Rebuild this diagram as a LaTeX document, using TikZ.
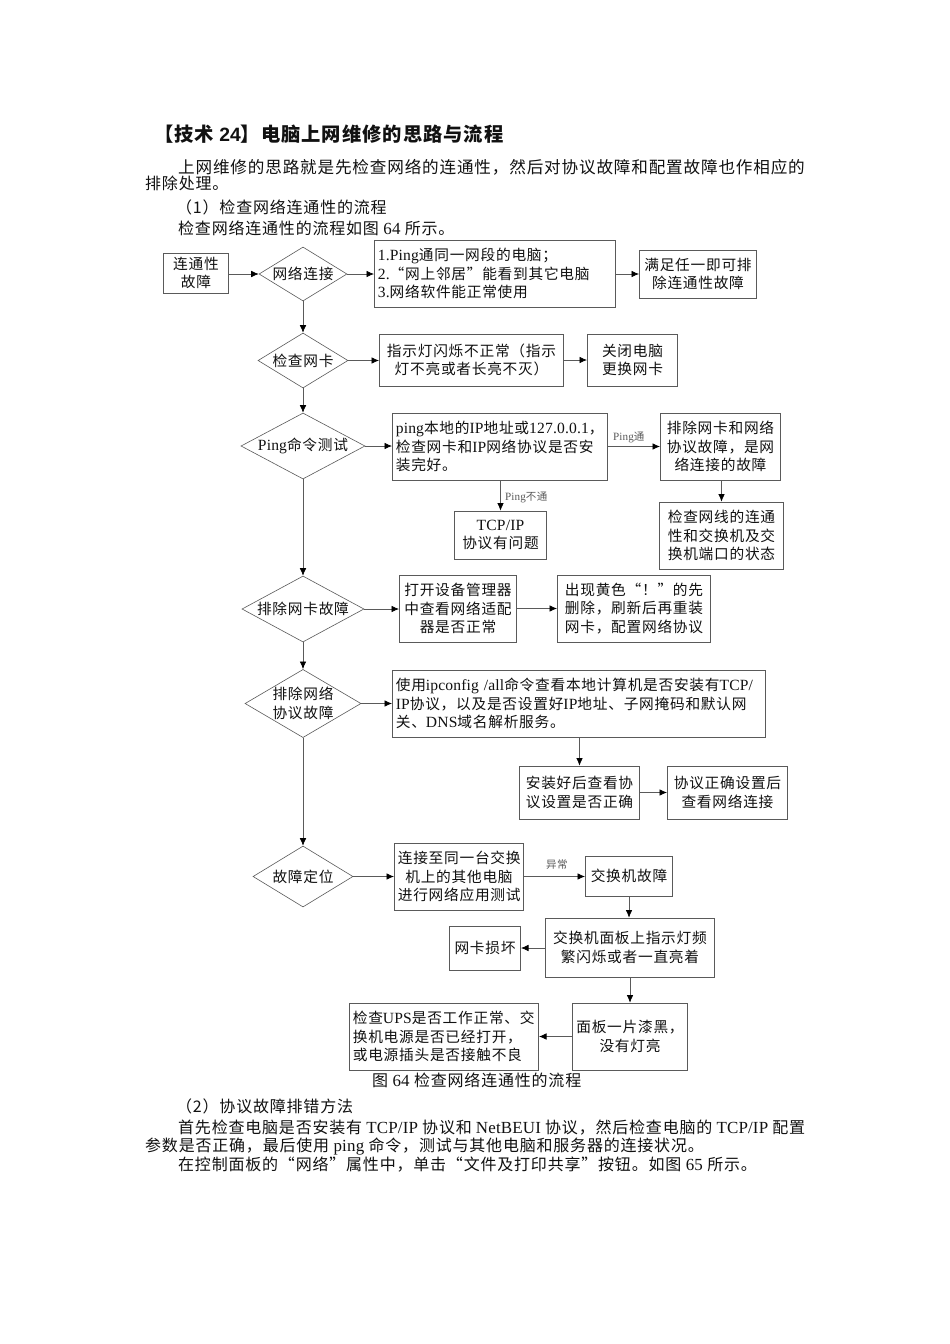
\documentclass[tikz,border=0pt]{standalone}
\usepackage{fontspec}
\setmainfont[LetterSpace=5]{Noto Sans CJK SC}
\newfontfamily\lat[Scale=1.06,LetterSpace=1]{Liberation Serif}
\newfontfamily\sanslat{Liberation Sans}
\usetikzlibrary{shapes.geometric,arrows.meta}
\newcommand\la[1]{{\lat #1}}
\definecolor{ln}{HTML}{5A5A5A}
\definecolor{txt}{HTML}{111111}
\tikzset{
  x=1pt,y=-1pt,
  boxst/.style={draw=ln,line width=.7pt,inner xsep=3.5pt,inner ysep=0pt,text=txt,fill=white,font=\fontsize{14.7}{18.5}\selectfont},
  dia/.style={draw=ln,line width=.6pt,diamond,inner sep=0pt,text=txt,align=center,font=\fontsize{14.7}{18.5}\selectfont},
  arr/.style={draw=ln,line width=.7pt,-{Latex[length=7.5pt,width=6.5pt,color=black]}},
  bodyline/.style={anchor=base west,inner sep=0pt,text=txt,font=\fontsize{16}{18}\selectfont},
  small/.style={inner sep=0pt,text=ln,font=\fontsize{10.5}{12}\selectfont},
}
% name, x1, y1, x2, y2, alignment, text
\newcommand\bx[7]{%
  \pgfmathsetmacro\cxx{(#2+#4)/2}\pgfmathsetmacro\cyy{(#3+#5)/2}%
  \pgfmathsetmacro\hh{#5-#3}\pgfmathsetmacro\tw{#4-#2-7.7}%
  \node[boxst,minimum height=\hh pt,text width=\tw pt,align=#6] (#1) at (\cxx,\cyy) {#7};}
% name, x1, y1, x2, y2, text
\newcommand\dm[6]{%
  \pgfmathsetmacro\cxx{(#2+#4)/2}\pgfmathsetmacro\cyy{(#3+#5)/2}%
  \pgfmathsetmacro\ww{#4-#2}\pgfmathsetmacro\hh{#5-#3}\pgfmathsetmacro\asp{(#4-#2)/(#5-#3)}%
  \node[dia,minimum width=\ww pt,minimum height=\hh pt,shape aspect=\asp] (#1) at (\cxx,\cyy) {#6};}
% name, x, baseline y, text
\newcommand\tl[4]{\node[bodyline] (#1) at (#2,#3) {#4};}
% the same, spread over a given width
\newcommand\tls[5]{\node[bodyline] (#1) at (#2,#3) {\makebox[#4pt][s]{#5}};}
\begin{document}
\begin{tikzpicture}
\fill[white] (0,0) rectangle (950,1344);
\useasboundingbox (0,0) rectangle (950,1344);
% text above
\node[bodyline,font=\fontsize{19.3}{20}\bfseries\selectfont] (title) at (154,141) {【技术 {\sanslat\bfseries 24}】电脑上网维修的思路与流程};
\node[bodyline,font=\fontsize{16.6}{18}\selectfont] (a1) at (178,173) {上网维修的思路就是先检查网络的连通性，然后对协议故障和配置故障也作相应的};
\tl{a2}{145}{189}{排除处理。}
\tl{a3}{176}{213}{（1）检查网络连通性的流程}
\tl{a4}{178}{234}{检查网络连通性的流程如图 \la{64} 所示。}
% row 1
\bx{b1}{163}{253}{229}{293}{center}{连通性\\故障}
\dm{d1}{259}{247}{347}{301}{网络连接}
\bx{b2}{374}{240}{616}{307}{left}{\la{1.Ping}通同一网段的电脑；\\\la{2.}“网上邻居”能看到其它电脑\\\la{3.}网络软件能正常使用}
\bx{b3}{639}{250}{757}{298}{center}{满足任一即可排\\除连通性故障}
% row 2
\dm{d2}{258}{333}{348}{388}{检查网卡}
\bx{b4}{379}{334}{564}{386}{center}{指示灯闪烁不正常（指示\\灯不亮或者长亮不灭）}
\bx{b5}{587}{334}{678}{386}{center}{关闭电脑\\更换网卡}
% row 3
\dm{d3}{241}{413}{365}{479}{\la{Ping}命令测试}
\bx{b6}{392}{413}{608}{480}{left}{\la{ping}本地的\la{IP}地址或\la{127.0.0.1}，\\检查网卡和\la{IP}网络协议是否安\\装完好。}
\bx{b7}{660}{413}{781}{480}{center}{排除网卡和网络\\协议故障，是网\\络连接的故障}
\bx{b8}{659}{502}{784}{569}{center}{检查网线的连通\\性和交换机及交\\换机端口的状态}
\bx{b9}{454}{511}{547}{559}{center}{\la{TCP/IP}\\协议有问题}
\node[small,anchor=west] (l1) at (613,437) {\la{Ping}通};
\node[small,anchor=west] (l2) at (505,497) {\la{Ping}不通};
% row 4
\dm{d4}{242}{576}{364}{642}{排除网卡故障}
\bx{b10}{399}{575}{517}{642}{center}{打开设备管理器\\中查看网络适配\\器是否正常}
\bx{b11}{557}{575}{711}{642}{center}{出现黄色“！”的先\\删除，刷新后再重装\\网卡，配置网络协议}
% row 5
\dm{d5}{246}{670}{360}{737}{排除网络\\协议故障}
\bx{b12}{392}{670}{766}{737}{left}{使用\la{ipconfig /all}命令查看本地计算机是否安装有\la{TCP/}\\\la{IP}协议，以及是否设置好\la{IP}地址、子网掩码和默认网\\关、\la{DNS}域名解析服务。}
\bx{b13}{519}{766}{640}{819}{center}{安装好后查看协\\议设置是否正确}
\bx{b14}{667}{766}{788}{819}{center}{协议正确设置后\\查看网络连接}
% row 6
\dm{d6}{253}{846}{353}{907}{故障定位}
\bx{b15}{394}{843}{524}{910}{center}{连接至同一台交换\\机上的其他电脑\\进行网络应用测试}
\bx{b16}{585}{856}{673}{896}{center}{交换机故障}
\node[small,anchor=west] (l3) at (546,865) {异常};
\bx{b17}{545}{918}{715}{977}{center}{交换机面板上指示灯频\\繁闪烁或者一直亮着}
\bx{b18}{449}{926}{521}{970}{center}{网卡损坏}
\bx{b19}{572}{1003}{688}{1070}{center}{面板一片漆黑，\\没有灯亮}
\bx{b20}{349}{1003}{539}{1070}{left}{检查\la{UPS}是否工作正常、交\\换机电源是否已经打开，\\或电源插头是否接触不良}
% connectors
\draw[arr] (b1.east |- d1.west) -- (d1.west);
\draw[arr] (d1.east) -- (d1.east -| b2.west);
\draw[arr] (b2.east |- b3.west) -- (b3.west);
\draw[arr] (d1.south) -- (d2.north);
\draw[arr] (d2.east) -- (d2.east -| b4.west);
\draw[arr] (b4.east) -- (b5.west);
\draw[arr] (d2.south) -- (d3.north);
\draw[arr] (d3.east) -- (d3.east -| b6.west);
\draw[arr] (b6.east) -- (b7.west);
\draw[arr] (b9.north |- b6.south) -- (b9.north);
\draw[arr] (b8.north |- b7.south) -- (b8.north);
\draw[arr] (d3.south) -- (d4.north);
\draw[arr] (d4.east) -- (d4.east -| b10.west);
\draw[arr] (b10.east) -- (b11.west);
\draw[arr] (d4.south) -- (d5.north);
\draw[arr] (d5.east) -- (d5.east -| b12.west);
\draw[arr] (b13.north |- b12.south) -- (b13.north);
\draw[arr] (b13.east) -- (b14.west);
\draw[arr] (d5.south) -- (d6.north);
\draw[arr] (d6.east) -- (d6.east -| b15.west);
\draw[arr] (b15.east) -- (b15.east -| b16.west);
\draw[arr] (b16.south) -- (b16.south |- b17.north);
\draw[arr] (b17.west |- b18.east) -- (b18.east);
\draw[arr] (b19.north |- b17.south) -- (b19.north);
\draw[arr] (b19.west) -- (b20.east);
% text below
\tl{cap}{372}{1086}{图 \la{64} 检查网络连通性的流程}
\tl{c1}{176}{1112}{（2）协议故障排错方法}
\tls{c2}{178}{1133}{627}{首先检查电脑是否安装有 \la{TCP/IP} 协议和 \la{NetBEUI} 协议，然后检查电脑的 \la{TCP/IP} 配置}
\tl{c3}{145}{1151}{参数是否正确，最后使用 \la{ping} 命令，测试与其他电脑和服务器的连接状况。}
\tl{c4}{178}{1170}{在控制面板的“网络”属性中，单击“文件及打印共享”按钮。如图 \la{65} 所示。}
\end{tikzpicture}
\end{document}
